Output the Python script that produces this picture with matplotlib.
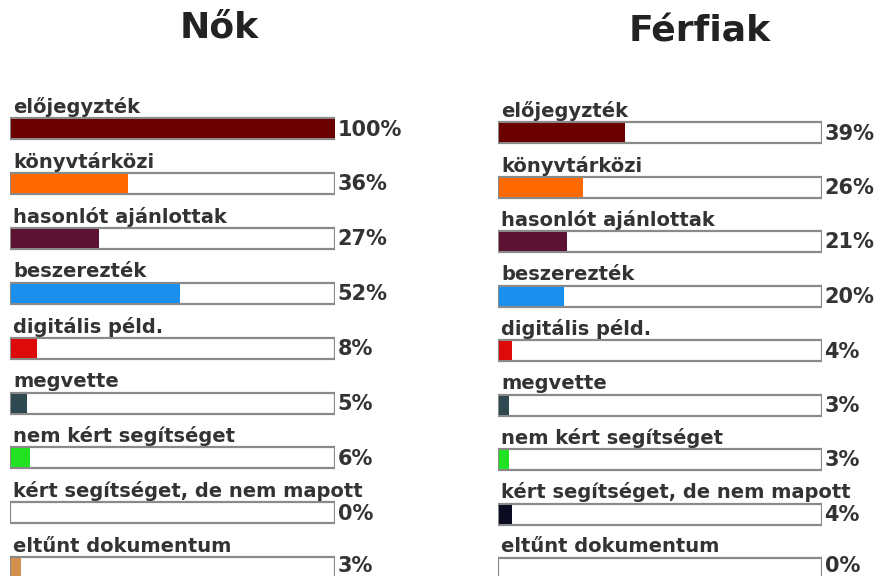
import matplotlib
matplotlib.use("Agg")
import matplotlib.pyplot as plt

categories = ["előjegyzték", "könyvtárközi", "hasonlót ajánlottak", "beszerezték",
              "digitális péld.", "megvette", "nem kért segítséget",
              "kért segítséget, de nem mapott", "eltűnt dokumentum"]
nok = [100, 36, 27, 52, 8, 5, 6, 0, 3]
ferfiak = [39, 26, 21, 20, 4, 3, 3, 4, 0]
colors = ["#6b0000", "#ff6a00", "#5c1233", "#1b8fee", "#dd0a0a",
          "#2e4a50", "#22e022", "#0b0b22", "#d4914e"]

W, H = 880, 576
fig = plt.figure(figsize=(W / 100, H / 100), dpi=100)
fig.patch.set_facecolor("white")


def panel(x0, x1, top0, step, values, title, tx, ty):
    # axes in pixel units vertically, percent horizontally
    ax = fig.add_axes([x0 / W, 0, (x1 - x0) / W, 1])
    ax.set_xlim(0, 100)
    ax.set_ylim(H, 0)
    ax.axis("off")
    bh = 21
    for i, (cat, v) in enumerate(zip(categories, values)):
        top = top0 + i * step
        ax.barh(top + bh / 2, 100, height=bh, left=0, color="white",
                edgecolor="#8a8a8a", linewidth=1.6, zorder=1)
        if v > 0:
            ax.barh(top + bh / 2, v, height=bh - 2, left=0.3, color=colors[i],
                    edgecolor="none", zorder=2)
        ax.text(1.0, top - 11, cat, fontsize=14, fontweight="bold",
                color="#333333", va="center", ha="left", zorder=3,
                clip_on=False)
        ax.text(100.8, min(top + bh / 2 + 1, H - 10), f"{v}%", fontsize=15,
                fontweight="bold", color="#333333", va="center", ha="left",
                clip_on=False)
    fig.text(tx / W, 1 - ty / H, title, fontsize=26, fontweight="bold",
             color="#222222", ha="center", va="center")


panel(10, 335, 118, 54.9, nok, "Nők", 219, 27)
panel(498, 822, 122, 54.5, ferfiak, "Férfiak", 700, 32)

fig.savefig("out.png", dpi=100, facecolor="white")
